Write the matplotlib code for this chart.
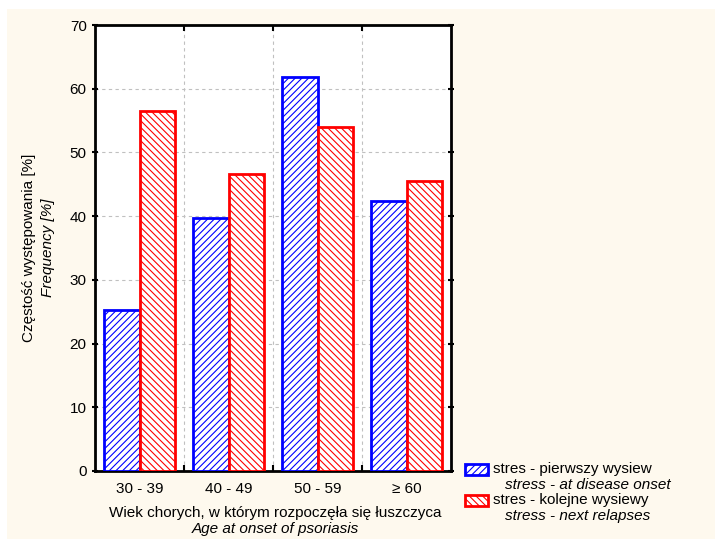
import numpy as np
import matplotlib.pyplot as plt
from matplotlib.patches import Rectangle

plt.rcParams['font.family'] = ['Liberation Sans', 'DejaVu Sans']
plt.rcParams['hatch.linewidth'] = 0.8

categories = ['30 - 39', '40 - 49', '50 - 59', '≥ 60']
first_onset = [25.3, 39.7, 61.9, 42.4]
next_relapses = [56.5, 46.6, 54.0, 45.5]
yticks = [0, 10, 20, 30, 40, 50, 60, 70]

W, H = 715, 539
FS = 11
fig = plt.figure(figsize=(W / 100, H / 100), dpi=100, facecolor='white')
fig.patches.append(Rectangle((7 / W, 0), 1 - 7 / W, 1 - 9 / H, transform=fig.transFigure,
                             facecolor='#fef9ee', edgecolor='none', zorder=-10))

ax = fig.add_axes([95 / W, 1 - 471 / H, 356 / W, 446 / H])
ax.set_facecolor('white')

x = np.arange(len(categories))
bw = 0.4
blue_hatch = '/////'
red_hatch = '\\\\\\\\\\'
ax.bar(x - bw / 2, first_onset, bw, facecolor='white', edgecolor='blue', hatch=blue_hatch,
       linewidth=2, zorder=3)
ax.bar(x + bw / 2, next_relapses, bw, facecolor='white', edgecolor='red', hatch=red_hatch,
       linewidth=2, zorder=3)

ax.set_xlim(-0.5, len(categories) - 0.5)
ax.set_ylim(0, 70)
ax.set_yticks(yticks)
ax.set_xticks(x)
ax.set_xticklabels(categories, fontsize=FS)
ax.set_xticks(np.arange(0.5, len(categories) - 1, 1), minor=True)
ax.tick_params(axis='x', which='major', length=0, pad=8)
ax.tick_params(axis='x', which='minor', direction='in', length=4, width=1.5, top=True)
ax.tick_params(axis='y', direction='inout', length=5, width=1.5, right=True, labelsize=FS)
ax.grid(which='minor', axis='x', color='#c0c0c0', linestyle=(0, (3, 3)), linewidth=0.8, zorder=0)
ax.grid(which='major', axis='y', color='#c0c0c0', linestyle=(0, (3, 3)), linewidth=0.8, zorder=0)
for s in ax.spines.values():
    s.set_linewidth(2)

# axis titles: Polish line plus italic English line
fig.text(29 / W, 1 - 248 / H, 'Częstość występowania [%]', rotation=90, ha='center', va='center',
         fontsize=FS)
fig.text(48 / W, 1 - 248 / H, 'Frequency [%]', rotation=90, ha='center', va='center',
         fontsize=FS, style='italic')
fig.text(275 / W, 1 - 513 / H, 'Wiek chorych, w którym rozpoczęła się łuszczyca', ha='center',
         va='center', fontsize=FS)
fig.text(275 / W, 1 - 529 / H, 'Age at onset of psoriasis', ha='center', va='center',
         fontsize=FS, style='italic')

# legend drawn by hand to get the two-line labels
legend = [('blue', blue_hatch, 'stres - pierwszy wysiew', 'stress - at disease onset', 466),
          ('red', red_hatch, 'stres - kolejne wysiewy', 'stress - next relapses', 497)]
for color, hatch, pl, en, ytop in legend:
    fig.patches.append(Rectangle((465 / W, 1 - (ytop + 9) / H), 23 / W, 11 / H,
                                 transform=fig.transFigure, facecolor='white', edgecolor=color,
                                 hatch=hatch, linewidth=2))
    fig.text(493 / W, 1 - (ytop + 3) / H, pl, ha='left', va='center', fontsize=FS)
    fig.text(505 / W, 1 - (ytop + 19) / H, en, ha='left', va='center', fontsize=FS,
             style='italic')

fig.savefig('out.png', dpi=100, facecolor=fig.get_facecolor())
